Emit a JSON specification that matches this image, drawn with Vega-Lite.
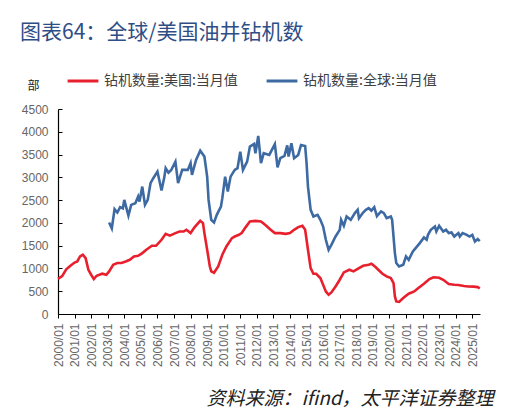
{
  "$schema": "https://vega.github.io/schema/vega-lite/v6.json",
  "width": 422,
  "height": 205,
  "autosize": {"type": "none"},
  "padding": {"left": 58, "top": 109, "right": 27, "bottom": 98},
  "background": "white",
  "title": {
    "text": "图表64：全球/美国油井钻机数",
    "anchor": "start",
    "frame": "group",
    "dx": -38,
    "dy": -10,
    "offset": 0,
    "baseline": "middle",
    "orient": "top",
    "font": "Noto Sans CJK SC",
    "fontSize": 21,
    "fontWeight": "normal",
    "color": "#2F4E86"
  },
  "config": {
    "view": {"stroke": null},
    "axis": {"grid": false}
  },
  "data": {
    "values": [
      {"d": "2000-01-01", "s": "钻机数量:美国:当月值", "v": 770},
      {"d": "2000-04-01", "s": "钻机数量:美国:当月值", "v": 830},
      {"d": "2000-07-01", "s": "钻机数量:美国:当月值", "v": 980},
      {"d": "2000-10-01", "s": "钻机数量:美国:当月值", "v": 1060},
      {"d": "2001-01-01", "s": "钻机数量:美国:当月值", "v": 1130},
      {"d": "2001-03-01", "s": "钻机数量:美国:当月值", "v": 1155},
      {"d": "2001-05-01", "s": "钻机数量:美国:当月值", "v": 1263},
      {"d": "2001-07-01", "s": "钻机数量:美国:当月值", "v": 1300},
      {"d": "2001-09-01", "s": "钻机数量:美国:当月值", "v": 1227},
      {"d": "2001-11-01", "s": "钻机数量:美国:当月值", "v": 971},
      {"d": "2002-01-01", "s": "钻机数量:美国:当月值", "v": 862},
      {"d": "2002-03-01", "s": "钻机数量:美国:当月值", "v": 767},
      {"d": "2002-05-01", "s": "钻机数量:美国:当月值", "v": 840},
      {"d": "2002-07-01", "s": "钻机数量:美国:当月值", "v": 862},
      {"d": "2002-09-01", "s": "钻机数量:美国:当月值", "v": 884},
      {"d": "2002-12-01", "s": "钻机数量:美国:当月值", "v": 862},
      {"d": "2003-02-01", "s": "钻机数量:美国:当月值", "v": 935},
      {"d": "2003-05-01", "s": "钻机数量:美国:当月值", "v": 1081},
      {"d": "2003-08-01", "s": "钻机数量:美国:当月值", "v": 1118},
      {"d": "2003-11-01", "s": "钻机数量:美国:当月值", "v": 1118},
      {"d": "2004-02-01", "s": "钻机数量:美国:当月值", "v": 1153},
      {"d": "2004-05-01", "s": "钻机数量:美国:当月值", "v": 1190},
      {"d": "2004-08-01", "s": "钻机数量:美国:当月值", "v": 1263},
      {"d": "2004-11-01", "s": "钻机数量:美国:当月值", "v": 1278},
      {"d": "2005-02-01", "s": "钻机数量:美国:当月值", "v": 1337},
      {"d": "2005-05-01", "s": "钻机数量:美国:当月值", "v": 1410},
      {"d": "2005-09-01", "s": "钻机数量:美国:当月值", "v": 1497},
      {"d": "2005-12-01", "s": "钻机数量:美国:当月值", "v": 1497},
      {"d": "2006-04-01", "s": "钻机数量:美国:当月值", "v": 1629},
      {"d": "2006-07-01", "s": "钻机数量:美国:当月值", "v": 1760},
      {"d": "2006-10-01", "s": "钻机数量:美国:当月值", "v": 1720},
      {"d": "2007-02-01", "s": "钻机数量:美国:当月值", "v": 1776},
      {"d": "2007-05-01", "s": "钻机数量:美国:当月值", "v": 1811},
      {"d": "2007-08-01", "s": "钻机数量:美国:当月值", "v": 1811},
      {"d": "2007-10-01", "s": "钻机数量:美国:当月值", "v": 1848},
      {"d": "2008-01-01", "s": "钻机数量:美国:当月值", "v": 1776},
      {"d": "2008-04-01", "s": "钻机数量:美国:当月值", "v": 1907},
      {"d": "2008-08-01", "s": "钻机数量:美国:当月值", "v": 2045},
      {"d": "2008-10-01", "s": "钻机数量:美国:当月值", "v": 1995},
      {"d": "2008-11-01", "s": "钻机数量:美国:当月值", "v": 1776},
      {"d": "2009-01-01", "s": "钻机数量:美国:当月值", "v": 1410},
      {"d": "2009-03-01", "s": "钻机数量:美国:当月值", "v": 1043},
      {"d": "2009-04-01", "s": "钻机数量:美国:当月值", "v": 935},
      {"d": "2009-06-01", "s": "钻机数量:美国:当月值", "v": 905},
      {"d": "2009-09-01", "s": "钻机数量:美国:当月值", "v": 1043},
      {"d": "2009-12-01", "s": "钻机数量:美国:当月值", "v": 1300},
      {"d": "2010-03-01", "s": "钻机数量:美国:当月值", "v": 1482},
      {"d": "2010-07-01", "s": "钻机数量:美国:当月值", "v": 1666},
      {"d": "2010-09-01", "s": "钻机数量:美国:当月值", "v": 1701},
      {"d": "2010-12-01", "s": "钻机数量:美国:当月值", "v": 1738},
      {"d": "2011-02-01", "s": "钻机数量:美国:当月值", "v": 1776},
      {"d": "2011-05-01", "s": "钻机数量:美国:当月值", "v": 1907},
      {"d": "2011-08-01", "s": "钻机数量:美国:当月值", "v": 2030},
      {"d": "2011-12-01", "s": "钻机数量:美国:当月值", "v": 2045},
      {"d": "2012-04-01", "s": "钻机数量:美国:当月值", "v": 2030},
      {"d": "2012-07-01", "s": "钻机数量:美国:当月值", "v": 1957},
      {"d": "2012-11-01", "s": "钻机数量:美国:当月值", "v": 1848},
      {"d": "2013-02-01", "s": "钻机数量:美国:当月值", "v": 1776},
      {"d": "2013-06-01", "s": "钻机数量:美国:当月值", "v": 1776},
      {"d": "2013-10-01", "s": "钻机数量:美国:当月值", "v": 1760},
      {"d": "2014-01-01", "s": "钻机数量:美国:当月值", "v": 1776},
      {"d": "2014-04-01", "s": "钻机数量:美国:当月值", "v": 1848},
      {"d": "2014-07-01", "s": "钻机数量:美国:当月值", "v": 1907},
      {"d": "2014-10-01", "s": "钻机数量:美国:当月值", "v": 1935},
      {"d": "2014-12-01", "s": "钻机数量:美国:当月值", "v": 1848},
      {"d": "2015-02-01", "s": "钻机数量:美国:当月值", "v": 1410},
      {"d": "2015-04-01", "s": "钻机数量:美国:当月值", "v": 1008},
      {"d": "2015-06-01", "s": "钻机数量:美国:当月值", "v": 884},
      {"d": "2015-08-01", "s": "钻机数量:美国:当月值", "v": 884},
      {"d": "2015-11-01", "s": "钻机数量:美国:当月值", "v": 789},
      {"d": "2016-01-01", "s": "钻机数量:美国:当月值", "v": 642},
      {"d": "2016-03-01", "s": "钻机数量:美国:当月值", "v": 495},
      {"d": "2016-05-01", "s": "钻机数量:美国:当月值", "v": 423},
      {"d": "2016-07-01", "s": "钻机数量:美国:当月值", "v": 474},
      {"d": "2016-10-01", "s": "钻机数量:美国:当月值", "v": 605},
      {"d": "2017-01-01", "s": "钻机数量:美国:当月值", "v": 752},
      {"d": "2017-04-01", "s": "钻机数量:美国:当月值", "v": 912},
      {"d": "2017-08-01", "s": "钻机数量:美国:当月值", "v": 971},
      {"d": "2017-11-01", "s": "钻机数量:美国:当月值", "v": 935},
      {"d": "2018-03-01", "s": "钻机数量:美国:当月值", "v": 1008},
      {"d": "2018-06-01", "s": "钻机数量:美国:当月值", "v": 1059},
      {"d": "2018-10-01", "s": "钻机数量:美国:当月值", "v": 1081},
      {"d": "2018-12-01", "s": "钻机数量:美国:当月值", "v": 1103},
      {"d": "2019-03-01", "s": "钻机数量:美国:当月值", "v": 1030},
      {"d": "2019-05-01", "s": "钻机数量:美国:当月值", "v": 971},
      {"d": "2019-08-01", "s": "钻机数量:美国:当月值", "v": 884},
      {"d": "2019-11-01", "s": "钻机数量:美国:当月值", "v": 825},
      {"d": "2020-02-01", "s": "钻机数量:美国:当月值", "v": 789},
      {"d": "2020-04-01", "s": "钻机数量:美国:当月值", "v": 680},
      {"d": "2020-05-01", "s": "钻机数量:美国:当月值", "v": 386},
      {"d": "2020-06-01", "s": "钻机数量:美国:当月值", "v": 276},
      {"d": "2020-08-01", "s": "钻机数量:美国:当月值", "v": 265},
      {"d": "2020-11-01", "s": "钻机数量:美国:当月值", "v": 351},
      {"d": "2021-03-01", "s": "钻机数量:美国:当月值", "v": 445},
      {"d": "2021-07-01", "s": "钻机数量:美国:当月值", "v": 495},
      {"d": "2021-10-01", "s": "钻机数量:美国:当月值", "v": 570},
      {"d": "2022-02-01", "s": "钻机数量:美国:当月值", "v": 664},
      {"d": "2022-06-01", "s": "钻机数量:美国:当月值", "v": 767},
      {"d": "2022-09-01", "s": "钻机数量:美国:当月值", "v": 805},
      {"d": "2023-01-01", "s": "钻机数量:美国:当月值", "v": 796},
      {"d": "2023-04-01", "s": "钻机数量:美国:当月值", "v": 752},
      {"d": "2023-08-01", "s": "钻机数量:美国:当月值", "v": 658},
      {"d": "2023-12-01", "s": "钻机数量:美国:当月值", "v": 642},
      {"d": "2024-03-01", "s": "钻机数量:美国:当月值", "v": 635},
      {"d": "2024-07-01", "s": "钻机数量:美国:当月值", "v": 615},
      {"d": "2024-10-01", "s": "钻机数量:美国:当月值", "v": 605},
      {"d": "2025-02-01", "s": "钻机数量:美国:当月值", "v": 600},
      {"d": "2025-05-01", "s": "钻机数量:美国:当月值", "v": 590},
      {"d": "2025-06-15", "s": "钻机数量:美国:当月值", "v": 560},

      {"d": "2003-02-01", "s": "钻机数量:全球:当月值", "v": 2008},
      {"d": "2003-04-01", "s": "钻机数量:全球:当月值", "v": 1877},
      {"d": "2003-06-01", "s": "钻机数量:全球:当月值", "v": 2301},
      {"d": "2003-08-01", "s": "钻机数量:全球:当月值", "v": 2228},
      {"d": "2003-10-01", "s": "钻机数量:全球:当月值", "v": 2345},
      {"d": "2003-12-01", "s": "钻机数量:全球:当月值", "v": 2320},
      {"d": "2004-01-01", "s": "钻机数量:全球:当月值", "v": 2506},
      {"d": "2004-04-01", "s": "钻机数量:全球:当月值", "v": 2162},
      {"d": "2004-06-01", "s": "钻机数量:全球:当月值", "v": 2396},
      {"d": "2004-09-01", "s": "钻机数量:全球:当月值", "v": 2433},
      {"d": "2004-11-01", "s": "钻机数量:全球:当月值", "v": 2578},
      {"d": "2004-12-01", "s": "钻机数量:全球:当月值", "v": 2468},
      {"d": "2005-02-01", "s": "钻机数量:全球:当月值", "v": 2797},
      {"d": "2005-04-01", "s": "钻机数量:全球:当月值", "v": 2396},
      {"d": "2005-06-01", "s": "钻机数量:全球:当月值", "v": 2505},
      {"d": "2005-08-01", "s": "钻机数量:全球:当月值", "v": 2871},
      {"d": "2005-10-01", "s": "钻机数量:全球:当月值", "v": 2981},
      {"d": "2006-01-01", "s": "钻机数量:全球:当月值", "v": 3126},
      {"d": "2006-04-01", "s": "钻机数量:全球:当月值", "v": 2709},
      {"d": "2006-06-01", "s": "钻机数量:全球:当月值", "v": 3000},
      {"d": "2006-07-01", "s": "钻机数量:全球:当月值", "v": 3200},
      {"d": "2006-09-01", "s": "钻机数量:全球:当月值", "v": 3100},
      {"d": "2006-11-01", "s": "钻机数量:全球:当月值", "v": 3160},
      {"d": "2007-02-01", "s": "钻机数量:全球:当月值", "v": 3345},
      {"d": "2007-04-01", "s": "钻机数量:全球:当月值", "v": 2871},
      {"d": "2007-07-01", "s": "钻机数量:全球:当月值", "v": 3163},
      {"d": "2007-11-01", "s": "钻机数量:全球:当月值", "v": 3163},
      {"d": "2008-01-01", "s": "钻机数量:全球:当月值", "v": 3310},
      {"d": "2008-02-01", "s": "钻机数量:全球:当月值", "v": 3053},
      {"d": "2008-05-01", "s": "钻机数量:全球:当月值", "v": 3382},
      {"d": "2008-08-01", "s": "钻机数量:全球:当月值", "v": 3586},
      {"d": "2008-11-01", "s": "钻机数量:全球:当月值", "v": 3455},
      {"d": "2009-01-01", "s": "钻机数量:全球:当月值", "v": 3016},
      {"d": "2009-02-01", "s": "钻机数量:全球:当月值", "v": 2505},
      {"d": "2009-04-01", "s": "钻机数量:全球:当月值", "v": 2067},
      {"d": "2009-06-01", "s": "钻机数量:全球:当月值", "v": 2008},
      {"d": "2009-08-01", "s": "钻机数量:全球:当月值", "v": 2177},
      {"d": "2009-11-01", "s": "钻机数量:全球:当月值", "v": 2359},
      {"d": "2009-12-01", "s": "钻机数量:全球:当月值", "v": 2543},
      {"d": "2010-02-01", "s": "钻机数量:全球:当月值", "v": 3016},
      {"d": "2010-04-01", "s": "钻机数量:全球:当月值", "v": 2687},
      {"d": "2010-06-01", "s": "钻机数量:全球:当月值", "v": 3016},
      {"d": "2010-09-01", "s": "钻机数量:全球:当月值", "v": 3163},
      {"d": "2010-11-01", "s": "钻机数量:全球:当月值", "v": 3200},
      {"d": "2011-01-01", "s": "钻机数量:全球:当月值", "v": 3564},
      {"d": "2011-03-01", "s": "钻机数量:全球:当月值", "v": 3163},
      {"d": "2011-06-01", "s": "钻机数量:全球:当月值", "v": 3345},
      {"d": "2011-08-01", "s": "钻机数量:全球:当月值", "v": 3674},
      {"d": "2011-11-01", "s": "钻机数量:全球:当月值", "v": 3733},
      {"d": "2011-12-01", "s": "钻机数量:全球:当月值", "v": 3529},
      {"d": "2012-02-01", "s": "钻机数量:全球:当月值", "v": 3908},
      {"d": "2012-04-01", "s": "钻机数量:全球:当月值", "v": 3310},
      {"d": "2012-06-01", "s": "钻机数量:全球:当月值", "v": 3529},
      {"d": "2012-10-01", "s": "钻机数量:全球:当月值", "v": 3492},
      {"d": "2013-02-01", "s": "钻机数量:全球:当月值", "v": 3730},
      {"d": "2013-04-01", "s": "钻机数量:全球:当月值", "v": 3220},
      {"d": "2013-06-01", "s": "钻机数量:全球:当月值", "v": 3420},
      {"d": "2013-09-01", "s": "钻机数量:全球:当月值", "v": 3470},
      {"d": "2013-11-01", "s": "钻机数量:全球:当月值", "v": 3700},
      {"d": "2013-12-01", "s": "钻机数量:全球:当月值", "v": 3455},
      {"d": "2014-02-01", "s": "钻机数量:全球:当月值", "v": 3748},
      {"d": "2014-04-01", "s": "钻机数量:全球:当月值", "v": 3420},
      {"d": "2014-07-01", "s": "钻机数量:全球:当月值", "v": 3492},
      {"d": "2014-09-01", "s": "钻机数量:全球:当月值", "v": 3711},
      {"d": "2014-12-01", "s": "钻机数量:全球:当月值", "v": 3689},
      {"d": "2015-01-01", "s": "钻机数量:全球:当月值", "v": 3310},
      {"d": "2015-02-01", "s": "钻机数量:全球:当月值", "v": 2797},
      {"d": "2015-04-01", "s": "钻机数量:全球:当月值", "v": 2286},
      {"d": "2015-06-01", "s": "钻机数量:全球:当月值", "v": 2140},
      {"d": "2015-09-01", "s": "钻机数量:全球:当月值", "v": 2177},
      {"d": "2015-11-01", "s": "钻机数量:全球:当月值", "v": 2067},
      {"d": "2016-01-01", "s": "钻机数量:全球:当月值", "v": 1920},
      {"d": "2016-03-01", "s": "钻机数量:全球:当月值", "v": 1629},
      {"d": "2016-05-01", "s": "钻机数量:全球:当月值", "v": 1410},
      {"d": "2016-07-01", "s": "钻机数量:全球:当月值", "v": 1519},
      {"d": "2016-10-01", "s": "钻机数量:全球:当月值", "v": 1701},
      {"d": "2017-01-01", "s": "钻机数量:全球:当月值", "v": 1848},
      {"d": "2017-02-01", "s": "钻机数量:全球:当月值", "v": 2067},
      {"d": "2017-04-01", "s": "钻机数量:全球:当月值", "v": 1935},
      {"d": "2017-06-01", "s": "钻机数量:全球:当月值", "v": 2140},
      {"d": "2017-09-01", "s": "钻机数量:全球:当月值", "v": 2067},
      {"d": "2017-12-01", "s": "钻机数量:全球:当月值", "v": 2214},
      {"d": "2018-02-01", "s": "钻机数量:全球:当月值", "v": 2286},
      {"d": "2018-03-01", "s": "钻机数量:全球:当月值", "v": 2104},
      {"d": "2018-06-01", "s": "钻机数量:全球:当月值", "v": 2228},
      {"d": "2018-08-01", "s": "钻机数量:全球:当月值", "v": 2286},
      {"d": "2018-10-01", "s": "钻机数量:全球:当月值", "v": 2323},
      {"d": "2018-12-01", "s": "钻机数量:全球:当月值", "v": 2270},
      {"d": "2019-02-01", "s": "钻机数量:全球:当月值", "v": 2345},
      {"d": "2019-04-01", "s": "钻机数量:全球:当月值", "v": 2150},
      {"d": "2019-07-01", "s": "钻机数量:全球:当月值", "v": 2250},
      {"d": "2019-09-01", "s": "钻机数量:全球:当月值", "v": 2214},
      {"d": "2019-11-01", "s": "钻机数量:全球:当月值", "v": 2104},
      {"d": "2020-02-01", "s": "钻机数量:全球:当月值", "v": 2140},
      {"d": "2020-03-01", "s": "钻机数量:全球:当月值", "v": 2067},
      {"d": "2020-05-01", "s": "钻机数量:全球:当月值", "v": 1337},
      {"d": "2020-06-01", "s": "钻机数量:全球:当月值", "v": 1118},
      {"d": "2020-08-01", "s": "钻机数量:全球:当月值", "v": 1043},
      {"d": "2020-11-01", "s": "钻机数量:全球:当月值", "v": 1081},
      {"d": "2021-01-01", "s": "钻机数量:全球:当月值", "v": 1263},
      {"d": "2021-03-01", "s": "钻机数量:全球:当月值", "v": 1190},
      {"d": "2021-06-01", "s": "钻机数量:全球:当月值", "v": 1372},
      {"d": "2021-08-01", "s": "钻机数量:全球:当月值", "v": 1447},
      {"d": "2021-11-01", "s": "钻机数量:全球:当月值", "v": 1556},
      {"d": "2022-02-01", "s": "钻机数量:全球:当月值", "v": 1680},
      {"d": "2022-04-01", "s": "钻机数量:全球:当月值", "v": 1630},
      {"d": "2022-05-01", "s": "钻机数量:全球:当月值", "v": 1738},
      {"d": "2022-07-01", "s": "钻机数量:全球:当月值", "v": 1848},
      {"d": "2022-10-01", "s": "钻机数量:全球:当月值", "v": 1920},
      {"d": "2022-11-01", "s": "钻机数量:全球:当月值", "v": 1811},
      {"d": "2023-01-01", "s": "钻机数量:全球:当月值", "v": 1935},
      {"d": "2023-04-01", "s": "钻机数量:全球:当月值", "v": 1811},
      {"d": "2023-06-01", "s": "钻机数量:全球:当月值", "v": 1848},
      {"d": "2023-08-01", "s": "钻机数量:全球:当月值", "v": 1776},
      {"d": "2023-10-01", "s": "钻机数量:全球:当月值", "v": 1790},
      {"d": "2023-12-01", "s": "钻机数量:全球:当月值", "v": 1701},
      {"d": "2024-03-01", "s": "钻机数量:全球:当月值", "v": 1776},
      {"d": "2024-04-01", "s": "钻机数量:全球:当月值", "v": 1701},
      {"d": "2024-06-01", "s": "钻机数量:全球:当月值", "v": 1776},
      {"d": "2024-09-01", "s": "钻机数量:全球:当月值", "v": 1738},
      {"d": "2024-11-01", "s": "钻机数量:全球:当月值", "v": 1701},
      {"d": "2025-01-01", "s": "钻机数量:全球:当月值", "v": 1738},
      {"d": "2025-03-01", "s": "钻机数量:全球:当月值", "v": 1592},
      {"d": "2025-05-01", "s": "钻机数量:全球:当月值", "v": 1644},
      {"d": "2025-06-15", "s": "钻机数量:全球:当月值", "v": 1600}
    ]
  },
  "mark": {"type": "line", "strokeWidth": 2.6, "clip": false},
  "encoding": {
    "x": {
      "field": "d",
      "type": "temporal",
      "scale": {"domain": ["2000-01-01", "2025-06-20"]},
      "axis": {
        "format": "%Y/%m",
        "tickCount": {"interval": "year", "step": 1},
        "labelAngle": 270,
        "labelFont": "Liberation Sans",
        "labelFontSize": 12,
        "labelColor": "#666666",
        "labelPadding": 5,
        "labelFlush": false,
        "labelOverlap": false,
        "labelBound": false,
        "domainColor": "#000000",
        "domainWidth": 1.2,
        "tickColor": "#000000",
        "tickSize": 4,
        "title": "资料来源：ifind，太平洋证券整理",
        "titleFont": "Noto Sans CJK SC",
        "titleFontSize": 19,
        "titleFontStyle": "italic",
        "titleFontWeight": "normal",
        "titleColor": "#222222",
        "titleAnchor": "end",
        "titleAlign": "right",
        "titleBaseline": "middle",
        "titleX": 435,
        "titleY": 84
      }
    },
    "y": {
      "field": "v",
      "type": "quantitative",
      "scale": {"domain": [0, 4500], "nice": false},
      "axis": {
        "values": [0, 500, 1000, 1500, 2000, 2500, 3000, 3500, 4000, 4500],
        "format": "d",
        "labelFont": "Liberation Sans",
        "labelFontSize": 12,
        "labelColor": "#666666",
        "labelPadding": 14,
        "domainColor": "#000000",
        "domainWidth": 1.2,
        "tickColor": "#000000",
        "tickSize": -4,
        "title": "部",
        "titleFont": "Noto Sans CJK SC",
        "titleFontSize": 12,
        "titleFontWeight": "normal",
        "titleColor": "#222222",
        "titleAngle": 0,
        "titleAlign": "center",
        "titleBaseline": "middle",
        "titleX": -25,
        "titleY": -24
      }
    },
    "color": {
      "field": "s",
      "type": "nominal",
      "scale": {
        "domain": ["钻机数量:美国:当月值", "钻机数量:全球:当月值"],
        "range": ["#E8202E", "#3D6AA2"]
      },
      "legend": {
        "title": null,
        "orient": "none",
        "legendX": 8,
        "legendY": -45,
        "direction": "horizontal",
        "symbolType": "stroke",
        "symbolSize": 950,
        "symbolStrokeWidth": 3,
        "labelFont": "Noto Sans CJK SC",
        "labelFontSize": 14,
        "labelColor": "#404040",
        "labelLimit": 300,
        "labelOffset": 4,
        "columnPadding": 22
      }
    }
  }
}
